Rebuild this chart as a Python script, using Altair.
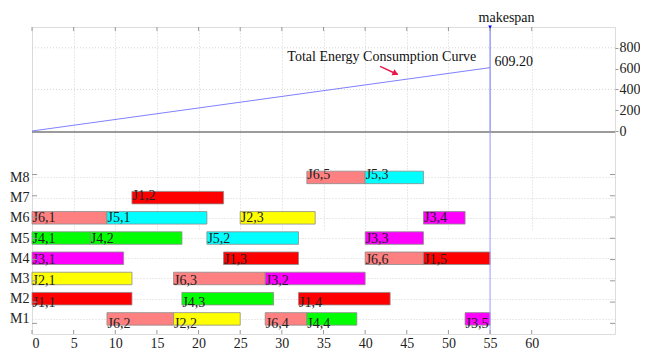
import altair as alt
import pandas as pd

# ---------------- data ----------------
op_labels = ["J6,2", "J2,2", "J6,4", "J4,4", "J3,5",
             "J1,1", "J4,3", "J1,4",
             "J2,1", "J6,3", "J3,2",
             "J3,1", "J1,3", "J6,6", "J1,5",
             "J4,1", "J4,2", "J5,2", "J3,3",
             "J6,1", "J5,1", "J2,3", "J3,4",
             "J1,2",
             "J6,5", "J5,3"]
op_machine = [1, 1, 1, 1, 1,
              2, 2, 2,
              3, 3, 3,
              4, 4, 4, 4,
              5, 5, 5, 5,
              6, 6, 6, 6,
              7,
              8, 8]
op_start = [9, 17, 28, 33, 52,
            0, 18, 32,
            0, 17, 28,
            0, 23, 40, 47,
            0, 7, 21, 40,
            0, 9, 25, 47,
            12,
            33, 40]
op_end = [17, 25, 33, 39, 55,
          12, 29, 43,
          12, 28, 40,
          11, 32, 47, 55,
          7, 18, 32, 47,
          9, 21, 34, 52,
          23,
          40, 47]

jobs = ["J1", "J2", "J3", "J4", "J5", "J6"]
job_colors = ["#ff0000", "#ffff00", "#ff00ff", "#00ff00", "#00ffff", "#ff8080"]

machine_ticks = [1, 2, 3, 4, 5, 6, 7, 8]
x_ticks = [0, 5, 10, 15, 20, 25, 30, 35, 40, 45, 50, 55, 60]
energy_ticks = [0, 200, 400, 600, 800]
energy_grid = [400, 800]

energy_time = [0, 55]
energy_value = [0, 609.2]
makespan = 55

curve_label = "Total Energy Consumption Curve"
curve_label_pos = [42.0, 711]
arrow_start = [41.8, 622]
arrow_end = [43.9, 543]

# ---------------- frames ----------------
ops = pd.DataFrame({
    "label": op_labels,
    "machine": op_machine,
    "start": op_start,
    "end": op_end,
})
ops["job"] = ops["label"].str.split(",").str[0]

energy = pd.DataFrame({"t": energy_time, "e": energy_value})

# ---------------- layout ----------------
W, H = 583, 307
SEP = round(H * 106 / 310)          # boundary between the two panels

FONT = "Liberation Serif"
GRID = "#d4d4d4"
XS = alt.Scale(domain=[0, 70], nice=False, zero=False)
YG = alt.Scale(domain=[0.5, 10], range=[H, SEP], nice=False, zero=False)
YE = alt.Scale(domain=[0, 1000], range=[SEP - 1, 0], nice=False, zero=False)

X_AX = alt.Axis(values=x_ticks, labelFont=FONT, labelFontSize=14, labelColor="#222",
                ticks=False, domain=False, grid=True, gridDash=[1, 2], gridColor=GRID,
                labelPadding=2, title=None)

egrid = alt.Chart(pd.DataFrame({"e": energy_grid, "a": [0, 0], "b": [70, 70]})).mark_rule(
    color=GRID, strokeDash=[1, 2]).encode(
    y=alt.Y("e:Q", scale=YE, axis=None),
    x=alt.X("a:Q", scale=XS, axis=X_AX), x2="b:Q")

eaxis = alt.Chart(pd.DataFrame({"e": energy_ticks, "x": [0] * 5})).mark_point(opacity=0).encode(
    y=alt.Y("e:Q", scale=YE,
            axis=alt.Axis(orient="right", values=energy_ticks, labelFont=FONT,
                          labelFontSize=14, labelColor="#222", tickSize=3,
                          tickColor="#999", domain=False, grid=False,
                          labelPadding=1, title=None)),
    x=alt.X("x:Q", scale=XS, axis=X_AX))

sep = alt.Chart(pd.DataFrame({"y": [10], "a": [0], "b": [70]})).mark_rule(
    color="#7a7a7a", strokeWidth=1.5).encode(
    y=alt.Y("y:Q", scale=YG, axis=None),
    x=alt.X("a:Q", scale=XS, axis=X_AX), x2="b:Q")

eline = alt.Chart(energy).mark_line(color="#8080ff", strokeWidth=1).encode(
    x=alt.X("t:Q", scale=XS, axis=X_AX),
    y=alt.Y("e:Q", scale=YE, axis=None))

mk_top = alt.Chart(pd.DataFrame({"t": [makespan], "a": [0], "b": [1000]})).mark_rule(
    color="#7070ff", strokeWidth=1).encode(
    x=alt.X("t:Q", scale=XS, axis=X_AX),
    y=alt.Y("a:Q", scale=YE, axis=None), y2="b:Q")
mk_bot = alt.Chart(pd.DataFrame({"t": [makespan], "a": [0.5], "b": [10]})).mark_rule(
    color="#9a9aff", strokeWidth=1).encode(
    x=alt.X("t:Q", scale=XS, axis=X_AX),
    y=alt.Y("a:Q", scale=YG, axis=None), y2="b:Q")
mk_pt = alt.Chart(pd.DataFrame({"t": [makespan], "e": [1000]})).mark_point(
    shape="triangle-down", filled=True, color="#0000ff", size=14, opacity=1).encode(
    x=alt.X("t:Q", scale=XS, axis=X_AX),
    y=alt.Y("e:Q", scale=YE, axis=None))

bars = alt.Chart(ops).mark_bar(size=12.5, stroke="#8c8c8c", strokeWidth=0.8,
                               orient="horizontal").encode(
    x=alt.X("start:Q", scale=XS, axis=X_AX),
    x2="end:Q",
    y=alt.Y("machine:Q", scale=YG,
            axis=alt.Axis(values=machine_ticks, labelExpr="'M' + datum.value",
                          labelFont=FONT, labelFontSize=14, labelColor="#222",
                          ticks=False, domain=False, grid=True, gridDash=[1, 2],
                          gridColor=GRID, labelPadding=3, title=None, orient="left")),
    color=alt.Color("job:N", scale=alt.Scale(domain=jobs, range=job_colors), legend=None))

blabels = alt.Chart(ops).mark_text(align="left", baseline="alphabetic", dx=0.5, dy=4.5,
                                    font=FONT, fontSize=14, color="#222").encode(
    x=alt.X("start:Q", scale=XS, axis=X_AX),
    y=alt.Y("machine:Q", scale=YG, axis=None),
    text="label:N")

tick_c = "#999"
bt = alt.Chart(pd.DataFrame({"v": x_ticks, "y": [0.5] * len(x_ticks)})).mark_rule(
    color=tick_c, y2Offset=-4).encode(
    x=alt.X("v:Q", scale=XS, axis=X_AX),
    y=alt.Y("y:Q", scale=YG, axis=None), y2="y:Q")
tt = alt.Chart(pd.DataFrame({"v": x_ticks, "y": [1000] * len(x_ticks)})).mark_rule(
    color=tick_c, y2Offset=4).encode(
    x=alt.X("v:Q", scale=XS, axis=X_AX),
    y=alt.Y("y:Q", scale=YE, axis=None), y2="y:Q")
lt = alt.Chart(pd.DataFrame({"m": machine_ticks, "x": [0] * 8})).mark_rule(
    color=tick_c, x2Offset=5).encode(
    y=alt.Y("m:Q", scale=YG, axis=None),
    x=alt.X("x:Q", scale=XS, axis=X_AX), x2="x:Q")
rt = alt.Chart(pd.DataFrame({"m": machine_ticks, "x": [70] * 8})).mark_rule(
    color=tick_c, x2Offset=-5).encode(
    y=alt.Y("m:Q", scale=YG, axis=None),
    x=alt.X("x:Q", scale=XS, axis=X_AX), x2="x:Q")

ann = alt.Chart(pd.DataFrame({"x": [curve_label_pos[0]], "y": [curve_label_pos[1]],
                              "s": [curve_label]})).mark_text(
    font=FONT, fontSize=14, color="#111", align="center", baseline="middle").encode(
    x=alt.X("x:Q", scale=XS, axis=X_AX),
    y=alt.Y("y:Q", scale=YE, axis=None), text="s:N")

arrow = alt.Chart(pd.DataFrame({"x": [arrow_start[0]], "y": [arrow_start[1]],
                                "x2": [arrow_end[0]], "y2": [arrow_end[1]]})).mark_rule(
    color="#e8174a", strokeWidth=1.5).encode(
    x=alt.X("x:Q", scale=XS, axis=X_AX), x2="x2:Q",
    y=alt.Y("y:Q", scale=YE, axis=None), y2="y2:Q")
ahead = alt.Chart(pd.DataFrame({"x": [arrow_end[0]], "y": [arrow_end[1]]})).mark_point(
    shape="triangle-right", angle=25, filled=True, color="#e8174a", size=45,
    opacity=1, xOffset=-2, yOffset=-1).encode(
    x=alt.X("x:Q", scale=XS, axis=X_AX),
    y=alt.Y("y:Q", scale=YE, axis=None))

val = alt.Chart(pd.DataFrame({"x": [makespan], "y": [energy_value[-1]],
                              "s": [f"{energy_value[-1]:.2f}"]})).mark_text(
    font=FONT, fontSize=14, color="#111", align="left", baseline="middle",
    dx=4.5, dy=-5.5).encode(
    x=alt.X("x:Q", scale=XS, axis=X_AX),
    y=alt.Y("y:Q", scale=YE, axis=None), text="s:N")

mk_txt = alt.Chart(pd.DataFrame({"x": [makespan], "y": [1000], "s": ["makespan"]})).mark_text(
    font=FONT, fontSize=14, color="#111", align="center", baseline="middle",
    dx=16.5, dy=-9).encode(
    x=alt.X("x:Q", scale=XS, axis=X_AX),
    y=alt.Y("y:Q", scale=YE, axis=None), text="s:N")

chart = alt.layer(
    bars, egrid, eaxis, sep, eline, mk_top, mk_bot, blabels,
    bt, tt, lt, rt, ann, arrow, ahead, val, mk_txt, mk_pt
).resolve_scale(y="independent").properties(
    width=W, height=H,
    autosize=alt.AutoSizeParams(type="none"),
    padding={"left": 24, "top": 19, "right": 25, "bottom": 16},
).configure_view(stroke="#a8a8a8", strokeWidth=1).configure(font=FONT, background="white")

chart.save("out.html", embed_options={"renderer": "svg", "actions": False})
